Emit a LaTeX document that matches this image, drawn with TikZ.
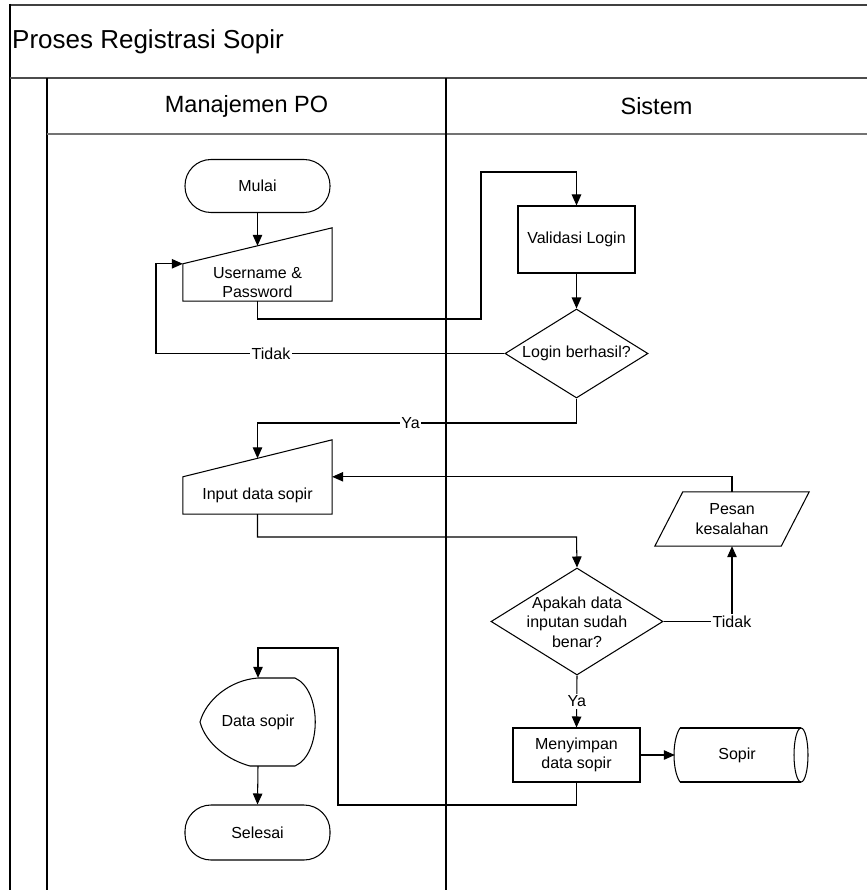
\documentclass[tikz,border=0pt]{standalone}
\usepackage{fontspec}
\setmainfont{Liberation Sans}
\usetikzlibrary{arrows.meta,shapes.geometric}

\begin{document}
\begin{tikzpicture}[x=1pt,y=-1pt,
  every node/.style={font=\fontsize{16}{19.5}\selectfont, inner sep=0pt, align=center},
  flow/.style={line width=1.05pt, draw=black},
  arrow/.style={flow, -{Triangle[length=11pt,width=9.5pt]}},
  lane/.style={line width=1.4pt, draw=black},
  term/.style={draw, line width=1.05pt, rounded corners=26pt, minimum width=145pt, minimum height=53pt},
  procbox/.style={draw, line width=1.05pt},
  decision/.style={draw, diamond, line width=1.05pt, aspect=1.6},
  lbl/.style={fill=white, inner sep=1.5pt}
]
\useasboundingbox (0,0) rectangle (867,890);

% swimlane frame
\draw[line width=2pt, draw=black!75] (10,5) -- (867,5);
\draw[lane] (10,4) -- (10,890);
\draw[line width=2.4pt, draw=black!70] (10,78) -- (867,78);
\draw[lane] (47,78) -- (47,890);
\draw[line width=1.5pt, draw=black!55] (47,134) -- (867,134);
\draw[line width=1.2pt] (446,78) -- (446,890);

\node[anchor=west, font=\fontsize{26}{30}\selectfont] (title) at (12,42) {Proses Registrasi Sopir};
\node[font=\fontsize{23.5}{28}\selectfont] (laneA) at (246.5,106) {Manajemen PO};
\node[font=\fontsize{23.5}{28}\selectfont] (laneB) at (656.5,106) {Sistem};

% process shapes
\node[term] (mulai) at (257.5,186) {Mulai};

\node[minimum width=149pt, minimum height=37pt] (user) at (257.5,282.5) {Username \&\\Password};
\draw[flow] (user.north west) -- (user.south west) -- (user.south east)
  -- ([yshift=36pt]user.north east) -- cycle;

\node[procbox, minimum width=117pt, minimum height=67pt] (valid) at (576.5,239.5) {Validasi Login};

\node[decision, minimum width=143pt, minimum height=89pt] (login) at (576.5,353.5) {Login berhasil?};

\node[minimum width=149pt, minimum height=37pt] (input) at (257.5,495.5) {Input data sopir};
\draw[flow] (input.north west) -- (input.south west) -- (input.south east)
  -- ([yshift=37pt]input.north east) -- cycle;

\node[minimum width=126pt, minimum height=54pt] (pesan) at (732,519) {Pesan\\kesalahan};
\draw[flow] ([xshift=-14pt]pesan.south west) -- ([xshift=14pt]pesan.north west)
  -- ([xshift=14pt]pesan.north east) -- ([xshift=-14pt]pesan.south east) -- cycle;

\node[decision, minimum width=172pt, minimum height=107pt] (cek) at (577,621.5) {};
\node (cektext) at (577,622) {Apakah data\\inputan sudah\\benar?};

\node[procbox, minimum width=127pt, minimum height=54pt] (simpan) at (576.5,755) {Menyimpan\\data sopir};

\node[minimum width=133pt, minimum height=54pt] (sopir) at (741.5,755) {Sopir\hspace*{9pt}};
\draw[flow] (680,728) -- (801,728) (801,782) -- (680,782);
\draw[flow] (680,728) .. controls (672,740) and (672,770) .. (680,782);
\draw[flow] (801,755) ellipse [x radius=7, y radius=27];

\node[minimum width=116pt, minimum height=88pt] (data) at (258,722) {Data sopir};
\draw[flow] (258,678) -- (295,678) .. controls (322,690) and (322,754) .. (295,766)
  -- (250,766) .. controls (228,760) and (206,744) .. (200,722)
  .. controls (206,700) and (230,680) .. (258,678);

\node[term, minimum height=55pt] (selesai) at (257.5,832.5) {Selesai};

% bend points of the connectors
\coordinate (b1) at (481,319);
\coordinate (b2) at (481,172);
\coordinate (t1) at (156,353.5);
\coordinate (y1) at (576.5,423);
\coordinate (y2) at (257.5,423);
\coordinate (k1) at (576.5,537);
\coordinate (tk) at (732,621.5);
\coordinate (r1) at (338,805);
\coordinate (r2) at (338,648);

% connectors
\draw[arrow] (mulai.south) -- ([yshift=18pt]user.north);
\draw[arrow] (user.south) |- (b1) -- (b2) -| (valid.north);
\draw[arrow] (valid.south) -- (login.north);
\draw[arrow] (login.west) -- node[lbl, pos=0.67] {Tidak} (t1) |- (user.north west);
\draw[arrow] (login.south) -- (y1) -- node[lbl, pos=0.52] {Ya} (y2) -- ([yshift=18.5pt]input.north);
\draw[arrow] (input.south) |- (k1) -- (cek.north);
\draw[flow] (cek.east) -- (tk);
\draw[arrow] (tk) -- (pesan.south);
\node[lbl] (tidak2) at (tk) {Tidak};
\draw[arrow] (pesan.north) |- (input.north east);
\draw[arrow] (cek.south) -- node[lbl] {Ya} (simpan.north);
\draw[arrow] (simpan.east) -- (sopir.west);
\draw[arrow] (simpan.south) |- (r1) -- (r2) -| (data.north);
\draw[arrow] (data.south) -- (selesai.north);
\end{tikzpicture}
\end{document}
